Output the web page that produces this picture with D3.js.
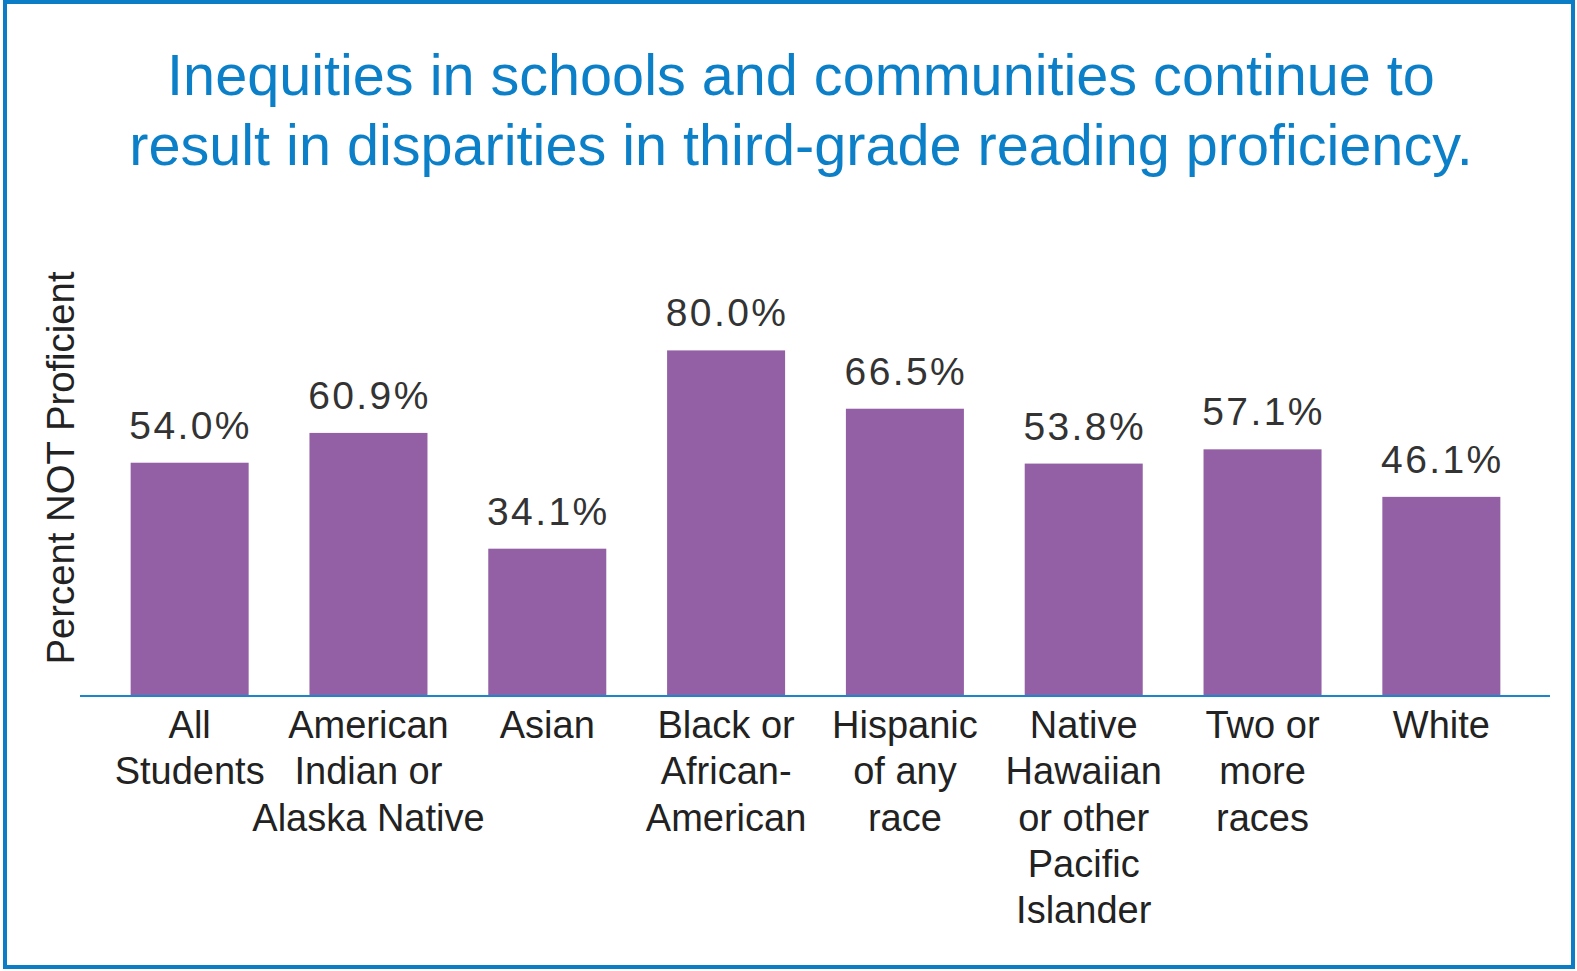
<!DOCTYPE html>
<html>
<head>
<meta charset="utf-8">
<script src="https://cdn.jsdelivr.net/npm/d3@7"></script>
<style>
  body { margin: 0; background: #fff; }
  svg { display: block; font-family: Arial, "Liberation Sans", sans-serif; }
</style>
</head>
<body>
<svg id="chart" width="1577" height="971"></svg>
<script>
// data
const categories = [
    ["All", "Students"],
    ["American", "Indian or", "Alaska Native"],
    ["Asian"],
    ["Black or", "African-", "American"],
    ["Hispanic", "of any", "race"],
    ["Native", "Hawaiian", "or other", "Pacific", "Islander"],
    ["Two or", "more", "races"],
    ["White"]
];
const values = [54.0, 60.9, 34.1, 80.0, 66.5, 53.8, 57.1, 46.1];
const titleLines = [
    "Inequities in schools and communities continue to",
    "result in disparities in third-grade reading proficiency."
];

const W = 1577, H = 971;
const baseY = 696;

const svg = d3.select("#chart");

// frame
svg.append("rect")
    .attr("x", 5).attr("y", 2)
    .attr("width", W - 9).attr("height", H - 6)
    .attr("fill", "none")
    .attr("stroke", "#0b7dc6")
    .attr("stroke-width", 4);

// title
svg.append("text")
    .attr("text-anchor", "middle")
    .attr("fill", "#0b80c8")
    .style("font-size", "57.6px")
    .selectAll("tspan")
    .data(titleLines)
    .enter()
    .append("tspan")
    .attr("x", 801)
    .attr("y", (d, i) => 95 + i * 70)
    .text(d => d);

const x = d3.scaleBand()
    .domain(d3.range(values.length))
    .range([77, 1554])
    .paddingInner(0.34)
    .paddingOuter(0.3);

const y = d3.scaleLinear()
    .domain([0, 100])
    .range([baseY, baseY - 432]);

const g = svg.append("g");

g.selectAll("rect.bar")
    .data(values)
    .enter()
    .append("rect")
    .attr("class", "bar")
    .attr("x", (d, i) => x(i))
    .attr("width", x.bandwidth())
    .attr("y", d => y(d))
    .attr("height", d => baseY - y(d))
    .attr("fill", "#9460a5");

g.selectAll("text.val")
    .data(values)
    .enter()
    .append("text")
    .attr("class", "val")
    .attr("x", (d, i) => x(i) + x.bandwidth() / 2 + 1)
    .attr("y", d => y(d) - 24)
    .attr("text-anchor", "middle")
    .attr("fill", "#333")
    .style("font-size", "39px")
    .style("letter-spacing", "2.4px")
    .text(d => d.toFixed(1) + "%");

// baseline
svg.append("line")
    .attr("x1", 80).attr("x2", 1550)
    .attr("y1", baseY).attr("y2", baseY)
    .attr("stroke", "#1a86cc")
    .attr("stroke-width", 2);

// category labels
const cat = svg.append("g").selectAll("text")
    .data(categories)
    .enter()
    .append("text")
    .attr("text-anchor", "middle")
    .attr("fill", "#222")
    .style("font-size", "38px");

cat.selectAll("tspan")
    .data((d, i) => d.map(t => ({ t, i })))
    .enter()
    .append("tspan")
    .attr("x", d => x(d.i) + x.bandwidth() / 2)
    .attr("y", (d, j) => 738 + j * 46.3)
    .text(d => d.t);

// y axis title
svg.append("text")
    .attr("transform", "translate(74," + 468 + ") rotate(-90)")
    .attr("text-anchor", "middle")
    .attr("fill", "#222")
    .style("font-size", "38.3px")
    .text("Percent NOT Proficient");
</script>
</body>
</html>
